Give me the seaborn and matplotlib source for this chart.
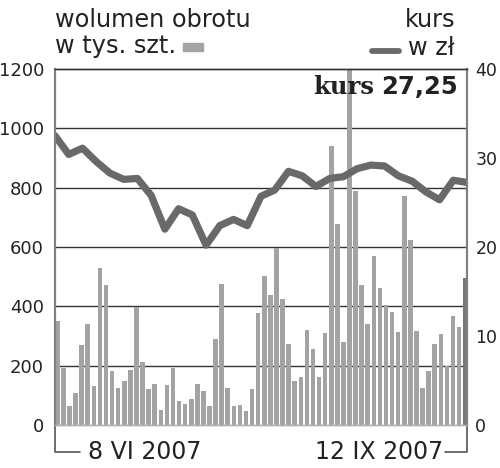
import numpy as np
import pandas as pd
import matplotlib
matplotlib.use('Agg')
import matplotlib.pyplot as plt
from matplotlib.lines import Line2D
from matplotlib.patches import Rectangle
import seaborn as sns

# daily volume (thousand shares) and closing price (zl)
volume = [350, 193, 64, 109, 271, 341, 132, 529, 471, 182,
          125, 149, 185, 399, 211, 122, 139, 50, 134, 193,
          81, 72, 88, 137, 115, 63, 289, 475, 124, 65,
          68, 47, 121, 376, 502, 438, 596, 425, 273, 148,
          162, 320, 256, 162, 310, 940, 678, 281, 1210, 790,
          472, 339, 570, 462, 406, 381, 313, 772, 624, 317,
          124, 181, 273, 307, 200, 367, 330, 496]
price = [32.5, 30.4, 31.1, 29.6, 28.3, 27.6, 27.7, 25.8, 22.0, 24.3,
         23.6, 20.2, 22.4, 23.1, 22.4, 25.7, 26.4, 28.5, 28.0, 26.8,
         27.7, 27.9, 28.8, 29.2, 29.1, 28.0, 27.4, 26.2, 25.3, 27.5, 27.25]
vol_ticks = [0, 200, 400, 600, 800, 1000, 1200]
price_ticks = [0, 10, 20, 30, 40]
date_start = '8 VI 2007'
date_end = '12 IX 2007'

BAR = '#a3a3a3'
LAST_BAR = '#787878'
LINE = '#696969'
TXT = '#222222'

sns.set_style('white')
plt.rcParams['font.family'] = ['DejaVu Sans']

fig = plt.figure(figsize=(5, 4.68), dpi=100)
ax = fig.add_axes([0.11, 0.0919, 0.824, 0.7607])

df = pd.DataFrame({'day': range(len(volume)), 'volume': volume})
colors = [BAR] * (len(volume) - 1) + [LAST_BAR]
sns.barplot(data=df, x='day', y='volume', hue='day', palette=colors,
            legend=False, dodge=False, width=0.75, saturation=1,
            linewidth=0, ax=ax)
xlim = (-0.38, 67.3)
ax.set_xlim(*xlim)
ax.set_ylim(0, 1200)
ax.set_yticks(vol_ticks)
ax.set_xticks([])
ax.set_xlabel('')
ax.set_ylabel('')
ax.set_axisbelow(True)
for v in vol_ticks[1:-1]:
    ax.axhline(v, color='#333333', lw=1.0, zorder=0)
ax.tick_params(axis='y', length=0, pad=8, labelsize=13, labelcolor=TXT)

ax2 = ax.twinx()
line_df = pd.DataFrame({'x': np.linspace(xlim[0], xlim[1], len(price)), 'kurs': price})
sns.lineplot(data=line_df, x='x', y='kurs', color=LINE, lw=5.2, ax=ax2,
             solid_capstyle='round', solid_joinstyle='round')
ax2.set_xlim(*xlim)
ax2.set_ylim(0, 40)
ax2.set_yticks(price_ticks)
ax2.set_ylabel('')
ax2.tick_params(axis='y', length=0, pad=6, labelsize=12.5, labelcolor=TXT)

for a in (ax, ax2):
    a.spines['top'].set_color('#333333')
    a.spines['top'].set_linewidth(1.0)
    a.spines['left'].set_color('#808080')
    a.spines['left'].set_linewidth(1.5)
    a.spines['right'].set_color('#808080')
    a.spines['right'].set_linewidth(1.5)
    a.spines['bottom'].set_color('#b0b0b0')
    a.spines['bottom'].set_linewidth(1.0)

# date bracket under the axis
ax.plot([0, 0, 0.061], [0, -0.076, -0.076], transform=ax.transAxes,
        color='#555555', lw=1.2, clip_on=False)
ax.plot([1, 1, 0.947], [0, -0.076, -0.076], transform=ax.transAxes,
        color='#555555', lw=1.2, clip_on=False)
ax.text(0.08, -0.076, date_start, transform=ax.transAxes, ha='left', va='center',
        fontsize=17, color=TXT)
ax.text(0.942, -0.076, date_end, transform=ax.transAxes, ha='right', va='center',
        fontsize=17, color=TXT)

# headers and legend keys
fig.text(55 / 500, 1 - 27 / 468, 'wolumen obrotu', fontsize=17.3, color=TXT, va='baseline')
fig.text(55 / 500, 1 - 53 / 468, 'w tys. szt.', fontsize=17.3, color=TXT, va='baseline')
fig.patches.append(Rectangle((183 / 500, 1 - 51 / 468), 20 / 500, 8 / 468,
                             transform=fig.transFigure, color=BAR))
fig.text(455 / 500, 1 - 27 / 468, 'kurs', fontsize=17.3, color=TXT, ha='right', va='baseline')
fig.text(455 / 500, 1 - 55 / 468, 'w zł', fontsize=17.3, color=TXT, ha='right', va='baseline')
fig.add_artist(Line2D([372 / 500, 399 / 500], [1 - 51 / 468, 1 - 51 / 468],
                      transform=fig.transFigure, color=LINE, lw=4.2,
                      solid_capstyle='round'))

fig.text(458 / 500, 1 - 94 / 468, '27,25', fontsize=17.5, fontweight='bold',
         color=TXT, ha='right', va='baseline')
fig.text(374 / 500, 1 - 94 / 468, 'kurs', fontsize=17.5, fontweight='bold',
         family='DejaVu Serif', color=TXT, ha='right', va='baseline')

fig.savefig('out.png', dpi=100)
